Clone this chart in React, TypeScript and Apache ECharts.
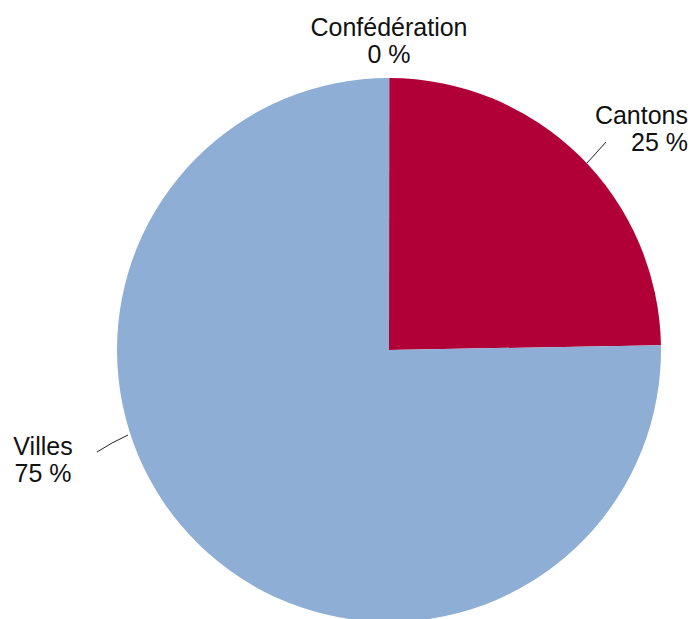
import React, { useEffect, useRef } from "react";
import * as echarts from "echarts";

const categories = ["Confédération", "Cantons", "Villes"];
const shares = [0.02, 24.7, 75.28];
const colors = ["#8FAED5", "#B00037", "#8FAED5"];

// label anchor positions (layout only)
const labelPos: Record<number, any> = {
  0: { x: 389, y: 40, align: "center", verticalAlign: "middle" },
  1: {
    x: 688,
    y: 128,
    align: "right",
    verticalAlign: "middle",
    labelLinePoints: [
      [587, 163],
      [597, 152],
      [606, 142],
    ],
  },
  2: {
    x: 43,
    y: 459,
    align: "center",
    verticalAlign: "middle",
    labelLinePoints: [
      [128, 435],
      [112, 443],
      [97, 452],
    ],
  },
};

export default function App() {
  const ref = useRef<HTMLDivElement>(null);
  useEffect(() => {
    if (!ref.current) return;
    const chart = echarts.init(ref.current, null, { renderer: "svg" });
    chart.setOption({
      animation: false,
      backgroundColor: "#ffffff",
      series: [
        {
          type: "pie",
          center: [389, 350],
          radius: 272,
          startAngle: 90,
          clockwise: true,
          avoidLabelOverlap: false,
          percentPrecision: 0,
          itemStyle: { borderWidth: 0 },
          emphasis: { disabled: true },
          label: {
            show: true,
            position: "outside",
            formatter: "{b}\n{d} %",
            fontFamily: "Liberation Sans, Arial, Helvetica, sans-serif",
            fontSize: 25,
            lineHeight: 27,
            color: "#111111",
          },
          labelLine: {
            show: true,
            length: 10,
            length2: 0,
            lineStyle: { color: "#222222", width: 1 },
          },
          labelLayout: (params: any) => labelPos[params.dataIndex],
          data: categories.map((name, i) => ({
            name,
            value: shares[i],
            itemStyle: { color: colors[i] },
            labelLine: { show: i !== 0 },
          })),
        },
      ],
    });
    return () => chart.dispose();
  }, []);
  return (
    <div
      ref={ref}
      style={{ position: "absolute", left: 0, top: 0, width: 691, height: 619 }}
    />
  );
}
